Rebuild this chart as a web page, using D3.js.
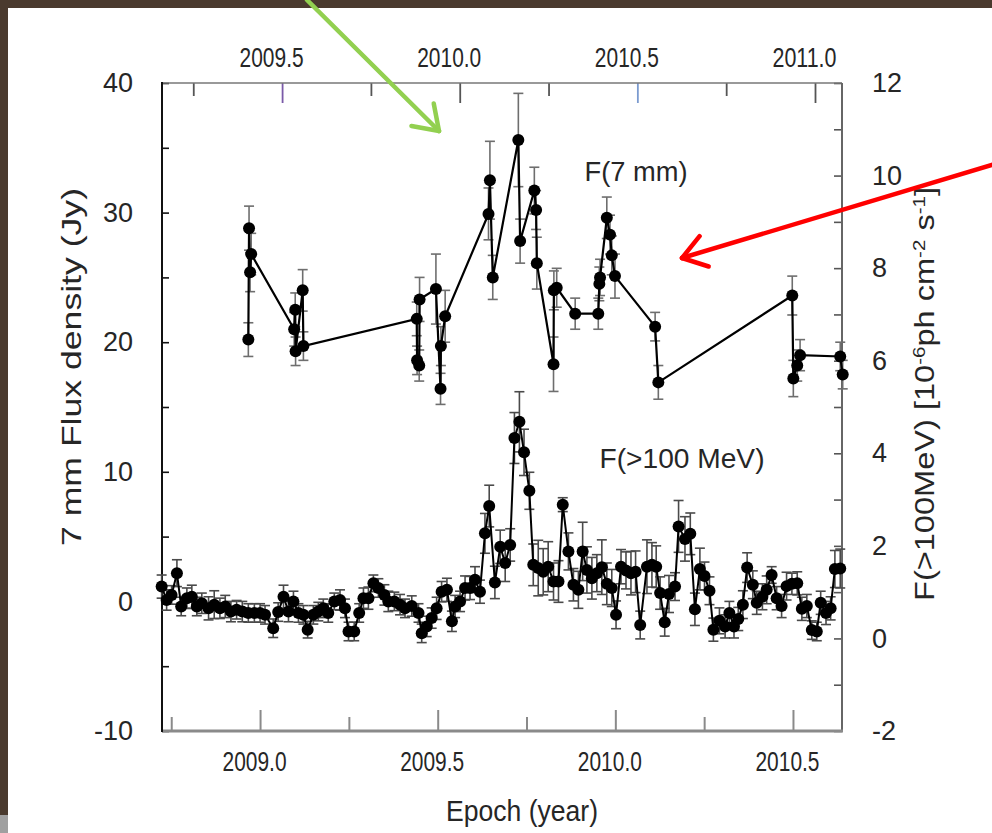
<!DOCTYPE html>
<html><head><meta charset="utf-8">
<script src="https://cdn.jsdelivr.net/npm/d3@7"></script>
<style>html,body{margin:0;padding:0;background:#fff;overflow:hidden} svg{display:block}</style>
</head><body>
<svg id="c" width="992" height="833"></svg>
<script>
// ---------- DATA ----------
// 7 mm flux density (Jy), epochs on the TOP axis
const mmEpoch = [2009.405, 2009.407, 2009.410, 2009.413, 2009.534, 2009.537, 2009.538, 2009.558, 2009.560,
  2009.879, 2009.880, 2009.886, 2009.887, 2009.933, 2009.946, 2009.947, 2009.959, 2010.081, 2010.085, 2010.093,
  2010.165, 2010.170, 2010.210, 2010.215, 2010.217, 2010.264, 2010.265, 2010.273, 2010.325, 2010.390, 2010.393,
  2010.395, 2010.414, 2010.423, 2010.428, 2010.437, 2010.550, 2010.559, 2010.936, 2010.939, 2010.950, 2010.958,
  2011.071, 2011.078];
const mmFlux = [20.2, 28.8, 25.4, 26.8, 21.0, 22.5, 19.3, 24.0, 19.7, 21.8, 18.6, 18.2, 23.3, 24.1, 16.4, 19.7,
  22.0, 29.9, 32.5, 25.0, 35.6, 27.8, 31.7, 30.2, 26.1, 18.3, 24.0, 24.2, 22.2, 22.2, 24.5, 25.0, 29.6, 28.3, 26.7,
  25.1, 21.2, 16.9, 23.6, 17.2, 18.2, 19.0, 18.9, 17.5];
const mmErr = [1.3, 1.7, 1.5, 1.6, 1.3, 1.3, 1.1, 1.6, 1.1, 1.3, 1.1, 1.2, 1.7, 2.7, 1.2, 1.5, 2.0, 2.0, 3.0, 1.7,
  3.6, 1.7, 1.8, 1.5, 2.0, 2.1, 1.5, 1.5, 1.2, 1.2, 1.3, 1.4, 1.6, 1.5, 1.5, 1.7, 1.1, 1.3, 1.5, 1.4, 1.2, 1.2, 1.1, 1.1];

// gamma-ray flux F(>100 MeV) [1e-6 ph cm^-2 s^-1], epochs on the BOTTOM axis
const gEpoch = [2008.723, 2008.737, 2008.751, 2008.766, 2008.778, 2008.794, 2008.808, 2008.822, 2008.836, 2008.855,
  2008.871, 2008.887, 2008.902, 2008.918, 2008.934, 2008.950, 2008.967, 2008.984, 2009.000, 2009.014,
  2009.037, 2009.051, 2009.066, 2009.080, 2009.094, 2009.108, 2009.122, 2009.134, 2009.150, 2009.164,
  2009.178, 2009.192, 2009.209, 2009.225, 2009.239, 2009.249, 2009.265, 2009.279, 2009.291, 2009.305,
  2009.319, 2009.333, 2009.350, 2009.361, 2009.378, 2009.394, 2009.408, 2009.427, 2009.446, 2009.455,
  2009.469, 2009.483, 2009.497, 2009.511, 2009.526, 2009.540, 2009.549, 2009.563, 2009.577, 2009.591,
  2009.605, 2009.619, 2009.633, 2009.645, 2009.661, 2009.676, 2009.690, 2009.704, 2009.716, 2009.730,
  2009.743, 2009.758, 2009.769, 2009.783, 2009.797, 2009.811, 2009.826, 2009.840, 2009.852, 2009.868,
  2009.882, 2009.896, 2009.908, 2009.920, 2009.934, 2009.948, 2009.962, 2009.976, 2009.990, 2010.002,
  2010.016, 2010.030, 2010.044, 2010.057, 2010.070, 2010.089, 2010.103, 2010.115, 2010.126, 2010.139,
  2010.151, 2010.168, 2010.178, 2010.196, 2010.211, 2010.224, 2010.238, 2010.251, 2010.265, 2010.276,
  2010.293, 2010.309, 2010.321, 2010.334, 2010.346, 2010.359, 2010.371, 2010.387, 2010.398, 2010.414,
  2010.426, 2010.440, 2010.454, 2010.468, 2010.482, 2010.497, 2010.512, 2010.525, 2010.539, 2010.553,
  2010.567, 2010.578, 2010.593, 2010.606, 2010.618, 2010.633];
const gFlux = [1.12, 0.83, 0.94, 1.41, 0.69, 0.87, 0.90, 0.69, 0.76, 0.65,
  0.73, 0.65, 0.69, 0.58, 0.62, 0.58, 0.55, 0.55, 0.55, 0.51,
  0.22, 0.57, 0.90, 0.58, 0.80, 0.55, 0.51, 0.19, 0.51, 0.58,
  0.65, 0.55, 0.80, 0.83, 0.65, 0.15, 0.15, 0.55, 0.87, 0.87,
  1.19, 1.09, 0.94, 0.80, 0.80, 0.73, 0.65, 0.70, 0.55, 0.11,
  0.26, 0.44, 0.65, 1.01, 1.05, 0.37, 0.69, 0.80, 1.09, 1.09,
  1.27, 1.01, 2.27, 2.86, 1.21, 1.98, 1.63, 2.02, 4.33, 4.68,
  4.02, 3.19, 1.59, 1.52, 1.44, 1.55, 1.23, 1.23, 2.89, 1.88,
  1.16, 1.05, 1.88, 1.48, 1.30, 1.41, 1.54, 1.18, 1.09, 0.51,
  1.55, 1.47, 1.41, 1.44, 0.29, 1.55, 1.59, 1.55, 0.98, 0.35,
  0.96, 1.12, 2.42, 2.15, 2.26, 0.63, 1.50, 1.35, 1.03, 0.19,
  0.38, 0.26, 0.55, 0.26, 0.42, 0.73, 1.53, 1.16, 0.77, 0.90,
  1.05, 1.37, 0.87, 0.70, 1.13, 1.18, 1.19, 0.64, 0.70, 0.18,
  0.15, 0.77, 0.55, 0.65, 1.50, 1.51];
const gErr = [0.25, 0.22, 0.20, 0.29, 0.20, 0.22, 0.25, 0.20, 0.22, 0.25,
  0.30, 0.22, 0.24, 0.22, 0.20, 0.22, 0.20, 0.20, 0.20, 0.20,
  0.20, 0.20, 0.25, 0.22, 0.22, 0.20, 0.20, 0.18, 0.20, 0.20,
  0.20, 0.20, 0.18, 0.22, 0.20, 0.20, 0.20, 0.20, 0.22, 0.24,
  0.18, 0.20, 0.22, 0.22, 0.20, 0.22, 0.20, 0.22, 0.20, 0.20,
  0.22, 0.22, 0.24, 0.22, 0.25, 0.22, 0.24, 0.22, 0.26, 0.25,
  0.28, 0.25, 0.43, 0.45, 0.35, 0.36, 0.40, 0.35, 0.55, 0.65,
  0.50, 0.40, 0.45, 0.60, 0.50, 0.54, 0.40, 0.45, 0.15, 0.40,
  0.35, 0.40, 0.63, 0.50, 0.45, 0.40, 0.59, 0.45, 0.40, 0.30,
  0.37, 0.40, 0.47, 0.45, 0.30, 0.58, 0.48, 0.45, 0.35, 0.30,
  0.40, 0.30, 0.56, 0.48, 0.45, 0.35, 0.45, 0.30, 0.30, 0.25,
  0.28, 0.25, 0.25, 0.25, 0.25, 0.30, 0.32, 0.30, 0.25, 0.28,
  0.30, 0.18, 0.25, 0.25, 0.30, 0.23, 0.25, 0.25, 0.25, 0.20,
  0.20, 0.25, 0.25, 0.25, 0.40, 0.42];

// tick labels
const leftTicks = [-10, 0, 10, 20, 30, 40];
const leftMinor = [-10, -5, 0, 5, 10, 15, 20, 25, 30, 35, 40];
const rightTicks = [-2, 0, 2, 4, 6, 8, 10, 12];
const rightMinor = [-2, -1, 0, 1, 2, 3, 4, 5, 6, 7, 8, 9, 10, 11, 12];
const bottomLabels = [2009.0, 2009.5, 2010.0, 2010.5];
const bottomTicks = [2008.75, 2009.0, 2009.25, 2009.5, 2009.75, 2010.0, 2010.25, 2010.5];
const topLabels = [2009.5, 2010.0, 2010.5, 2011.0];
const topTicks = [2009.25, 2009.5, 2009.75, 2010.0, 2010.25, 2010.5, 2010.75, 2011.0];

// ---------- CHART ----------
const svg = d3.select('#c');
const FONT = "'Liberation Sans', Arial, sans-serif";
const TXT = '#262626';
const L = 162, R = 842, T = 83, B = 731;

const xBot = d3.scaleLinear().domain([2008.724, 2010.638]).range([L, R]);
const xTop = d3.scaleLinear().domain([2009.162, 2011.076]).range([L, R]);
const yL = d3.scaleLinear().domain([-10, 40]).range([B, T]);
const yR = d3.scaleLinear().domain([-2, 12]).range([B, T]);

svg.append('rect').attr('width', 992).attr('height', 833).attr('fill', '#fff');
svg.append('rect').attr('x', 0).attr('y', 0).attr('width', 992).attr('height', 8).attr('fill', '#4a3a2e');
svg.append('rect').attr('x', 0).attr('y', 0).attr('width', 8).attr('height', 833).attr('fill', '#4a3a2e');
svg.append('rect').attr('x', 0).attr('y', 815).attr('width', 8).attr('height', 18).attr('fill', '#a0a0a0');

const plain = d => String(d);
function styleTicks(g, color, width) {
  g.select('.domain').remove();
  g.selectAll('.tick line').attr('stroke', color).attr('stroke-width', width);
}
function styleLabels(g, size, len, dx) {
  g.select('.domain').remove();
  g.selectAll('.tick line').remove();
  g.selectAll('text').attr('font-family', FONT).attr('font-size', size).attr('fill', TXT);
  if (len) g.selectAll('text').attr('textLength', len).attr('lengthAdjust', 'spacingAndGlyphs');
  if (dx) g.selectAll('text').attr('dx', dx);
}

// left axis (inward ticks)
svg.append('g').attr('transform', `translate(${L},0)`)
  .call(d3.axisRight(yL).tickValues(leftMinor).tickSize(7).tickFormat(''))
  .call(g => styleTicks(g, '#111', 1.6));
svg.append('g').attr('transform', `translate(${L},0)`)
  .call(d3.axisLeft(yL).tickValues(leftTicks).tickSize(0).tickPadding(29).tickFormat(plain))
  .call(g => styleLabels(g, 27));

// right axis
svg.append('g').attr('transform', `translate(${R},0)`)
  .call(d3.axisLeft(yR).tickValues(rightMinor).tickSize(8).tickFormat(''))
  .call(g => styleTicks(g, '#555', 1.6));
svg.append('g').attr('transform', `translate(${R},0)`)
  .call(d3.axisRight(yR).tickValues(rightTicks).tickSize(0).tickPadding(30).tickFormat(plain))
  .call(g => styleLabels(g, 27));

// bottom axis (ticks pointing up)
svg.append('g').attr('transform', `translate(0,${B})`)
  .call(d3.axisTop(xBot).tickValues(bottomTicks).tickSize(21).tickFormat(''))
  .call(g => { styleTicks(g, '#8a8a8a', 2);
    g.selectAll('.tick line').attr('y2', d => (Math.abs(d * 2 - Math.round(d * 2)) < 1e-6) ? -21 : -14); });
svg.append('g').attr('transform', `translate(0,${B})`)
  .call(d3.axisBottom(xBot).tickValues(bottomLabels).tickSize(0).tickPadding(21).tickFormat(d3.format('.1f')))
  .call(g => styleLabels(g, 27, 64, -6));

// top axis (ticks pointing down)
svg.append('g').attr('transform', `translate(0,${T})`)
  .call(d3.axisBottom(xTop).tickValues(topTicks).tickSize(20).tickFormat(''))
  .call(g => { styleTicks(g, '#555', 1.8);
    g.selectAll('.tick line')
      .attr('y2', d => (Math.abs(d * 2 - Math.round(d * 2)) < 1e-6) ? 20 : 13)
      .attr('stroke', d => d === 2009.5 ? '#7a5aa8' : d === 2010.5 ? '#7b9bd0' : '#555'); });
svg.append('g').attr('transform', `translate(0,${T})`)
  .call(d3.axisTop(xTop).tickValues(topLabels).tickSize(0).tickPadding(16).tickFormat(d3.format('.1f')))
  .call(g => styleLabels(g, 27, 64, -11));

// frame lines
svg.append('line').attr('x1', L).attr('x2', R).attr('y1', T).attr('y2', T).attr('stroke', '#777').attr('stroke-width', 1.5);
svg.append('line').attr('x1', R).attr('x2', R).attr('y1', T).attr('y2', B).attr('stroke', '#666').attr('stroke-width', 2);
svg.append('line').attr('x1', L).attr('x2', R + 1).attr('y1', B).attr('y2', B).attr('stroke', '#8a8a8a').attr('stroke-width', 3);
svg.append('line').attr('x1', L).attr('x2', L).attr('y1', T - 1).attr('y2', B + 1).attr('stroke', '#111').attr('stroke-width', 2);

// ---------- series ----------
function errorBars(xs, ys, es, xScale, yScale, color, cap) {
  const g = svg.append('g').attr('stroke', color).attr('stroke-width', 1.6);
  xs.forEach((x, i) => {
    const px = xScale(x), y1 = yScale(ys[i] + es[i]), y0 = yScale(ys[i] - es[i]);
    g.append('line').attr('x1', px).attr('x2', px).attr('y1', y1).attr('y2', y0);
    g.append('line').attr('x1', px - cap).attr('x2', px + cap).attr('y1', y1).attr('y2', y1);
    g.append('line').attr('x1', px - cap).attr('x2', px + cap).attr('y1', y0).attr('y2', y0);
  });
}

// gamma
const gPts = gEpoch.map((e, i) => [e, gFlux[i]]);
errorBars(gEpoch, gFlux, gErr, xBot, yR, '#4a4a4a', 5);
svg.append('path').datum(gPts)
  .attr('d', d3.line().x(d => xBot(d[0])).y(d => yR(d[1])))
  .attr('fill', 'none').attr('stroke', '#000').attr('stroke-width', 2);
svg.append('g').selectAll('circle').data(gPts).join('circle')
  .attr('cx', d => xBot(d[0])).attr('cy', d => yR(d[1])).attr('r', 6).attr('fill', '#000');

// 7 mm
const mPts = mmEpoch.map((e, i) => [e, mmFlux[i]]);
errorBars(mmEpoch, mmFlux, mmErr, xTop, yL, '#6e6e6e', 5);
svg.append('path').datum(mPts)
  .attr('d', d3.line().x(d => xTop(d[0])).y(d => yL(d[1])))
  .attr('fill', 'none').attr('stroke', '#000').attr('stroke-width', 2.2);
svg.append('g').selectAll('circle').data(mPts).join('circle')
  .attr('cx', d => xTop(d[0])).attr('cy', d => yL(d[1])).attr('r', 6).attr('fill', '#000');

// ---------- texts ----------
function txt(x, y, s, size, len, rot) {
  const t = svg.append('text').attr('x', x).attr('y', y).attr('text-anchor', 'middle')
    .attr('font-family', FONT).attr('font-size', size).attr('fill', TXT).text(s);
  if (len) t.attr('textLength', len).attr('lengthAdjust', 'spacingAndGlyphs');
  if (rot) t.attr('transform', `rotate(${rot},${x},${y})`);
  return t;
}
txt(522, 821, 'Epoch (year)', 29, 152);
txt(81, 367, '7 mm Flux density (Jy)', 28, 358, -90);
txt(636, 181, 'F(7 mm)', 27, 103);
txt(682, 468, 'F(>100 MeV)', 28, 165);

// right title with superscripts
const rt = svg.append('text').attr('transform', 'translate(934,394) rotate(-90)')
  .attr('text-anchor', 'middle').attr('font-family', FONT).attr('font-size', 27).attr('fill', TXT)
  .attr('textLength', 414).attr('lengthAdjust', 'spacingAndGlyphs');
rt.append('tspan').text('F(>100MeV)  [10');
rt.append('tspan').attr('dy', -9).attr('font-size', 17).text('-6');
rt.append('tspan').attr('dy', 9).text('ph cm');
rt.append('tspan').attr('dy', -9).attr('font-size', 17).text('-2');
rt.append('tspan').attr('dy', 9).text(' s');
rt.append('tspan').attr('dy', -9).attr('font-size', 17).text('-1');
rt.append('tspan').attr('dy', 9).text(']');

// ---------- arrows ----------
function arrow(x0, y0, x1, y1, color, head) {
  const a = Math.atan2(y1 - y0, x1 - x0);
  const g = svg.append('g').attr('stroke', color).attr('stroke-width', 4.5).attr('stroke-linecap', 'round').attr('fill', 'none');
  g.append('line').attr('x1', x0).attr('y1', y0).attr('x2', x1).attr('y2', y1);
  [0.6, -0.6].forEach(da => {
    g.append('line').attr('x1', x1).attr('y1', y1)
      .attr('x2', x1 - head * Math.cos(a + da)).attr('y2', y1 - head * Math.sin(a + da));
  });
}
arrow(307, 0, 439, 131, '#92d050', 28);
arrow(995, 164, 682, 258, '#ff0000', 28);
</script>
</body></html>
